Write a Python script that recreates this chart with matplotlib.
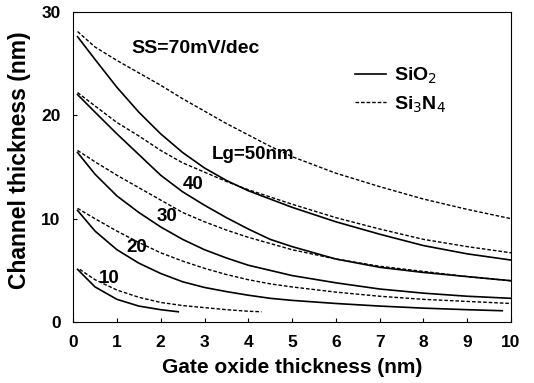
import numpy as np
import matplotlib
matplotlib.use("Agg")
import matplotlib.pyplot as plt

plt.rcParams['font.family'] = ['Liberation Sans', 'DejaVu Sans']

# curves: (x, y) per gate length, SiO2 solid / Si3N4 dashed
x_grid = [0.1, 0.5, 1, 1.5, 2, 2.5, 3, 3.5, 4, 4.5, 5, 6, 7, 8, 9, 10]

sio2_50 = [27.6, 25.4, 22.7, 20.3, 18.2, 16.4, 14.9, 13.7, 12.7, 11.9, 11.1, 9.7, 8.5, 7.4, 6.6, 6.0]
sin_50 = [28.1, 26.6, 25.3, 24.1, 22.9, 21.6, 20.4, 19.2, 18.1, 17.0, 16.0, 14.4, 13.1, 11.9, 10.9, 10.0]
sio2_40 = [22.0, 20.3, 18.2, 16.2, 14.2, 12.6, 11.3, 10.1, 9.0, 8.0, 7.3, 6.1, 5.3, 4.8, 4.4, 4.0]
sin_40 = [22.2, 20.9, 19.3, 18.0, 16.6, 15.4, 14.5, 13.6, 12.8, 12.1, 11.4, 10.1, 9.0, 8.0, 7.3, 6.7]
sio2_30 = [16.4, 14.3, 12.2, 10.6, 9.2, 8.0, 7.0, 6.2, 5.5, 5.0, 4.5, 3.8, 3.2, 2.8, 2.5, 2.3]
sin_30 = [16.6, 15.5, 14.2, 13.0, 11.8, 10.6, 9.7, 8.9, 8.2, 7.6, 7.0, 6.1, 5.4, 4.9, 4.4, 4.0]
sin_20 = [11.0, 10.0, 8.8, 7.7, 6.7, 5.9, 5.2, 4.6, 4.1, 3.7, 3.4, 2.9, 2.5, 2.2, 2.0, 1.8]

x_sio2_20 = [0.1, 0.5, 1, 1.5, 2, 2.5, 3, 3.5, 4, 4.5, 5, 6, 7, 8, 9, 9.8]
sio2_20 = [10.8, 8.8, 7.0, 5.7, 4.7, 3.9, 3.35, 2.95, 2.6, 2.3, 2.1, 1.8, 1.55, 1.35, 1.2, 1.1]

x_sio2_10 = [0.1, 0.5, 1, 1.5, 2, 2.4]
sio2_10 = [5.1, 3.4, 2.2, 1.55, 1.2, 1.0]
x_sin_10 = [0.15, 0.5, 1, 1.5, 2, 2.5, 3, 3.5, 4, 4.3]
sin_10 = [5.1, 4.1, 3.1, 2.4, 1.9, 1.6, 1.4, 1.2, 1.05, 1.0]

# Lg labels
lg_text = ["Lg=50nm", "40", "30", "20", "10"]
lg_x = [3.17, 2.51, 1.91, 1.22, 0.58]
lg_y = [16.2, 13.3, 10.2, 7.2, 4.25]

fig = plt.figure(figsize=(5.34, 3.83), dpi=100)
ax = fig.add_axes([0.137, 0.159, 0.820, 0.810])

dash = (0, (2.6, 1.4))
lw_s = 1.2
lw_d = 1.0

ax.plot(x_grid, sio2_50, color="black", lw=lw_s, label="SiO$_2$")
ax.plot(x_grid, sin_50, color="black", lw=lw_d, linestyle=dash, label="Si$_3$N$_4$")
ax.plot(x_grid, sio2_40, color="black", lw=lw_s)
ax.plot(x_grid, sin_40, color="black", lw=lw_d, linestyle=dash)
ax.plot(x_grid, sio2_30, color="black", lw=lw_s)
ax.plot(x_grid, sin_30, color="black", lw=lw_d, linestyle=dash)
ax.plot(x_sio2_20, sio2_20, color="black", lw=lw_s)
ax.plot(x_grid, sin_20, color="black", lw=lw_d, linestyle=dash)
ax.plot(x_sio2_10, sio2_10, color="black", lw=lw_s)
ax.plot(x_sin_10, sin_10, color="black", lw=lw_d, linestyle=dash)

for t, xx, yy in zip(lg_text, lg_x, lg_y):
    ax.text(xx, yy, t, fontsize=13.5, fontweight="bold", ha="left", va="center")

ax.text(1.34, 26.5, "SS=70mV/dec", fontsize=14, fontweight="bold", ha="left", va="center")

ax.legend(loc="upper left", bbox_to_anchor=(0.644, 0.825), frameon=False,
          borderpad=0, borderaxespad=0,
          handlelength=1.6, handletextpad=0.4, labelspacing=0.4,
          prop={"size": 14, "weight": "bold"})

ax.set_xlim(0, 10)
ax.set_ylim(0, 30)
ax.set_xticks(range(0, 11))
ax.set_yticks([0, 10, 20, 30])
ax.tick_params(direction="in", length=3, width=0.8, labelsize=12.5, pad=9)
for lab in ax.get_xticklabels() + ax.get_yticklabels():
    lab.set_fontweight("bold")
ax.set_xlabel("Gate oxide thickness (nm)", fontsize=15, fontweight="bold", labelpad=6)
ax.set_ylabel("Channel thickness (nm)", fontsize=16.5, fontweight="bold")
ax.yaxis.set_label_coords(-0.097, 0.523)
for s in ax.spines.values():
    s.set_linewidth(0.8)

fig.savefig("out.png", dpi=100)
